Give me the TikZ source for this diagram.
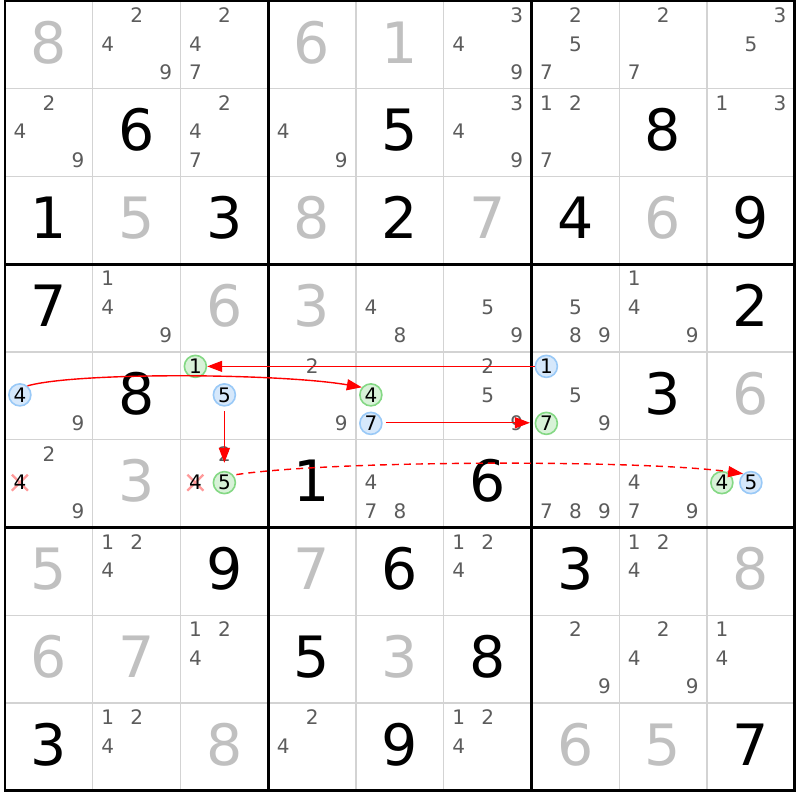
\documentclass[tikz,border=0pt]{standalone}
\usepackage{fontspec}
\setmainfont{DejaVu Sans}
\usetikzlibrary{arrows.meta,calc}
\definecolor{thingrid}{HTML}{D3D3D3}
\definecolor{candcol}{HTML}{5C5C5C}
\definecolor{solvedcol}{HTML}{C0C0C0}
\definecolor{bluefill}{HTML}{D6E8FB}
\definecolor{blueline}{HTML}{99C9F7}
\definecolor{greenfill}{HTML}{D8F2D8}
\definecolor{greenline}{HTML}{84D884}
\definecolor{crosscol}{HTML}{FF9A9A}
\definecolor{arrred}{HTML}{FF0000}
\newcommand{\cpos}[3]{%
  \pgfmathsetmacro{\cx}{5+(#2+0.5)*87.75+(mod(#3-1,3)-1)*29}%
  \pgfmathsetmacro{\cy}{1+(#1+0.5)*87.75+(floor((#3-1)/3)-1)*28.5-1}}
\newcommand{\giv}[3]{\node[givtxt] (v#1#2) at ({5+(#2+0.5)*87.75},{1+(#1+0.5)*87.75-2.5}) {#3};}
\newcommand{\sol}[3]{\node[soltxt] (v#1#2) at ({5+(#2+0.5)*87.75},{1+(#1+0.5)*87.75-2.5}) {#3};}
\newcommand{\cnd}[3]{\cpos{#1}{#2}{#3}\node[candtxt] (k#1#2#3) at (\cx,\cy) {#3};}
\newcommand{\cands}[3]{\foreach \dd in {#3} {\cnd{#1}{#2}{\dd}}}
\newcommand{\hl}[5]{\cpos{#2}{#3}{#4}\node[#1] (#5) at (\cx,\cy) {#4};}
\newcommand{\xc}[3]{\cpos{#1}{#2}{#3}%
  \draw[crossline] ($(\cx,\cy)+(-8,-8)$) -- ($(\cx,\cy)+(8,8)$);
  \draw[crossline] ($(\cx,\cy)+(-8,8)$) -- ($(\cx,\cy)+(8,-8)$);
  \node[crosstxt] (x#1#2#3) at (\cx,\cy) {#3};}
\begin{document}
\begin{tikzpicture}[x=0.5pt,y=-0.5pt,
  bigdigit/.style={inner sep=0pt,text height=20.78pt,text depth=0pt,anchor=center,font=\fontsize{28.5}{30}\selectfont},
  smalldigit/.style={inner sep=0pt,text height=7.29pt,text depth=0pt,anchor=center,font=\fontsize{10}{11}\selectfont},
  givtxt/.style={bigdigit,text=black},
  soltxt/.style={bigdigit,text=solvedcol},
  candtxt/.style={smalldigit,text=candcol},
  crosstxt/.style={smalldigit,text=black},
  hlc/.style={circle,inner sep=0pt,minimum size=11pt,line width=0.8pt,
     font=\fontsize{10}{11}\selectfont,text=black,text height=7.29pt,text depth=0pt},
  bc/.style={hlc,fill=bluefill,draw=blueline},
  gc/.style={hlc,fill=greenfill,draw=greenline},
  crossline/.style={draw=crosscol,line width=1.1pt},
  thinl/.style={draw=thingrid,line width=0.55pt},
  thickl/.style={draw=black,line width=1.4pt},
  arr/.style={draw=arrred,color=arrred,line width=0.7pt,-{Triangle[length=7.5pt,width=5.5pt]}},
  dasharr/.style={arr,dash pattern=on 3.5pt off 2.5pt}]
\useasboundingbox (0,0) rectangle (800,800);
\fill[white] (0,0) rectangle (800,800);
\foreach \i in {1,2,4,5,7,8} {
  \draw[thinl] ({5+\i*87.75},1) -- ({5+\i*87.75},790.75);
  \draw[thinl] (5,{1+\i*87.75}) -- (794.75,{1+\i*87.75});
}
\foreach \i in {3,6} {
  \draw[thickl] ({5+\i*87.75},1) -- ({5+\i*87.75},790.75);
  \draw[thickl] (5,{1+\i*87.75}) -- (794.75,{1+\i*87.75});
}
\draw[thickl] (5,1) rectangle (794.75,790.75);
% row 0
\sol{0}{0}{8} \cands{0}{1}{2,4,9} \cands{0}{2}{2,4,7} \sol{0}{3}{6} \sol{0}{4}{1}
\cands{0}{5}{3,4,9} \cands{0}{6}{2,5,7} \cands{0}{7}{2,7} \cands{0}{8}{3,5}
% row 1
\cands{1}{0}{2,4,9} \giv{1}{1}{6} \cands{1}{2}{2,4,7} \cands{1}{3}{4,9} \giv{1}{4}{5}
\cands{1}{5}{3,4,9} \cands{1}{6}{1,2,7} \giv{1}{7}{8} \cands{1}{8}{1,3}
% row 2
\giv{2}{0}{1} \sol{2}{1}{5} \giv{2}{2}{3} \sol{2}{3}{8} \giv{2}{4}{2} \sol{2}{5}{7}
\giv{2}{6}{4} \sol{2}{7}{6} \giv{2}{8}{9}
% row 3
\giv{3}{0}{7} \cands{3}{1}{1,4,9} \sol{3}{2}{6} \sol{3}{3}{3} \cands{3}{4}{4,8}
\cands{3}{5}{5,9} \cands{3}{6}{5,8,9} \cands{3}{7}{1,4,9} \giv{3}{8}{2}
% row 4
\hl{bc}{4}{0}{4}{b40} \cands{4}{0}{9} \giv{4}{1}{8} \hl{gc}{4}{2}{1}{g12} \hl{bc}{4}{2}{5}{b52}
\cands{4}{3}{2,9} \hl{gc}{4}{4}{4}{g44} \hl{bc}{4}{4}{7}{b74} \cands{4}{5}{2,5,9}
\hl{bc}{4}{6}{1}{b16} \cands{4}{6}{5,9} \hl{gc}{4}{6}{7}{g76} \giv{4}{7}{3} \sol{4}{8}{6}
% row 5
\cands{5}{0}{2,9} \xc{5}{0}{4} \sol{5}{1}{3} \cands{5}{2}{2} \xc{5}{2}{4} \hl{gc}{5}{2}{5}{g55}
\giv{5}{3}{1} \cands{5}{4}{4,7,8} \giv{5}{5}{6} \cands{5}{6}{7,8,9} \cands{5}{7}{4,7,9}
\hl{gc}{5}{8}{4}{g58} \hl{bc}{5}{8}{5}{b58}
% row 6
\sol{6}{0}{5} \cands{6}{1}{1,2,4} \giv{6}{2}{9} \sol{6}{3}{7} \giv{6}{4}{6}
\cands{6}{5}{1,2,4} \giv{6}{6}{3} \cands{6}{7}{1,2,4} \sol{6}{8}{8}
% row 7
\sol{7}{0}{6} \sol{7}{1}{7} \cands{7}{2}{1,2,4} \giv{7}{3}{5} \sol{7}{4}{3}
\giv{7}{5}{8} \cands{7}{6}{2,9} \cands{7}{7}{2,4,9} \cands{7}{8}{1,4}
% row 8
\giv{8}{0}{3} \cands{8}{1}{1,2,4} \sol{8}{2}{8} \cands{8}{3}{2,4} \giv{8}{4}{9}
\cands{8}{5}{1,2,4} \sol{8}{6}{6} \sol{8}{7}{5} \giv{8}{8}{7}
% arrows
\draw[arr] (b16) -- (g12);
\draw[arr] (b40.50) .. controls +(50,-14) and +(-82,-14) .. (g44.140);
\draw[arr,shorten <=2.3pt,shorten >=4pt] (b52) -- (g55);
\draw[arr,shorten <=1.6pt,shorten >=2.3pt] ([yshift=0.3pt]b74.east) -- ([yshift=0.3pt]g76.west);
\draw[dasharr,shorten <=1.5pt] (g55.40) .. controls +(100,-15) and +(-100,-14) .. (b58.131);
\end{tikzpicture}
\end{document}
